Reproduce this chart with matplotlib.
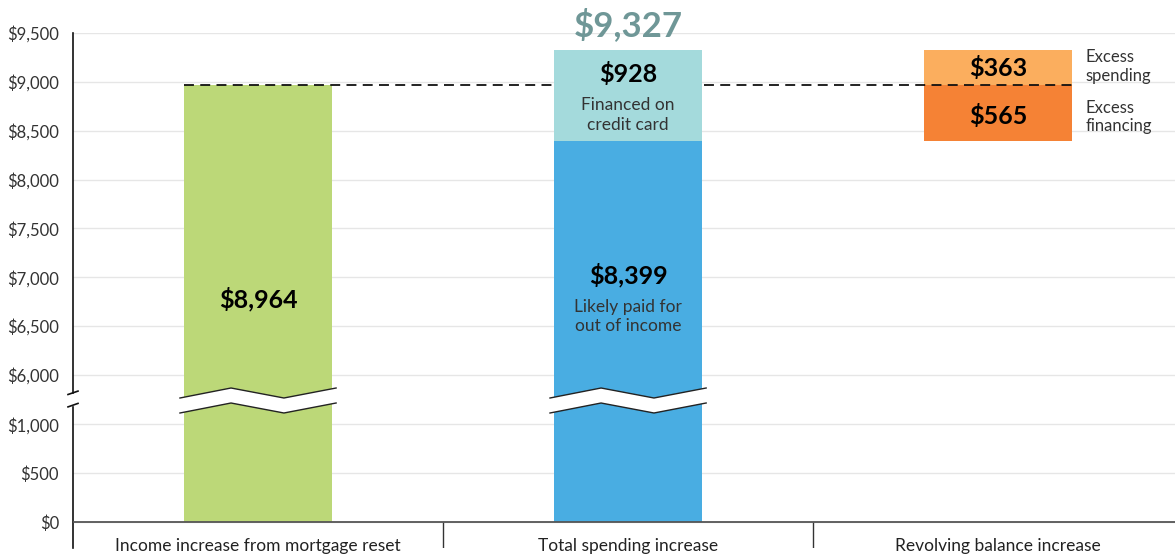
import matplotlib.pyplot as plt
import numpy as np

plt.rcParams['font.family'] = ['Lato', 'DejaVu Sans']

# data
categories = ['Income increase from mortgage reset', 'Total spending increase',
              'Revolving balance increase']
income_increase = 8964
paid_from_income = 8399
financed_on_card = 928
excess_financing = 565
excess_spending = 363
total_spending = paid_from_income + financed_on_card

top_ticks = np.arange(6000, 9501, 500)
bottom_ticks = [0, 500, 1000]

GREEN = '#bcd878'
BLUE = '#49ade2'
TEAL = '#a4dadc'
ORANGE_LIGHT = '#fbae5e'
ORANGE_DARK = '#f58235'
TOTAL_COLOR = '#6f9797'
TEXT = '#222222'
GRID = '#e6e6e6'

W, H = 1175, 554
fig = plt.figure(figsize=(W / 100, H / 100), dpi=100)
ax_top = fig.add_axes([73 / W, 1 - 393 / H, 1 - 73 / W, 360 / H])
ax_bot = fig.add_axes([73 / W, 1 - 548 / H, 1 - 73 / W, 141 / H])
ax_top.set_zorder(3)

TOP_LIM = (5816, 9500)
BOT_LIM = (-265, 1177)
XLIM = (-0.5, 2.478)
BAR_W = 0.4

for ax in (ax_top, ax_bot):
    ax.set_xlim(*XLIM)
    for s in ('top', 'right', 'bottom'):
        ax.spines[s].set_visible(False)
    ax.spines['left'].set_color('#111111')
    ax.spines['left'].set_linewidth(1.2)
    ax.set_xticks([])
    ax.tick_params(axis='y', length=0, pad=10, labelsize=12, labelcolor='#333333')
    ax.set_axisbelow(True)
    ax.grid(axis='y', color=GRID, lw=1)

ax_top.set_ylim(*TOP_LIM)
ax_bot.set_ylim(*BOT_LIM)
ax_top.set_yticks(top_ticks)
ax_top.set_yticklabels(['${:,}'.format(v) for v in top_ticks])
ax_bot.set_yticks(bottom_ticks)
ax_bot.set_yticklabels(['${:,}'.format(v) for v in bottom_ticks])

# value at the bottom of the gap between the two axes (in top-axes units)
units_per_px = (TOP_LIM[1] - TOP_LIM[0]) / 360
base = TOP_LIM[0] - 14 * units_per_px

# bars, top panel
ax_top.bar(0, income_increase - base, bottom=base, width=BAR_W, color=GREEN, clip_on=False, zorder=2)
ax_top.bar(1, paid_from_income - base, bottom=base, width=BAR_W, color=BLUE, clip_on=False, zorder=4)
ax_top.bar(1, financed_on_card, bottom=paid_from_income, width=BAR_W, color=TEAL, zorder=4)
ax_top.bar(2, excess_financing, bottom=paid_from_income, width=BAR_W, color=ORANGE_DARK, zorder=2)
ax_top.bar(2, excess_spending, bottom=paid_from_income + excess_financing, width=BAR_W,
           color=ORANGE_LIGHT, zorder=2)

# bars, bottom panel
ax_bot.bar(0, income_increase, width=BAR_W, color=GREEN, zorder=2)
ax_bot.bar(1, paid_from_income, width=BAR_W, color=BLUE, zorder=2)

# dashed reference at income level
ax_top.plot([0 - BAR_W / 2, 2 + BAR_W / 2], [income_increase, income_increase],
            color='#111111', lw=1.3, ls=(0, (5.5, 3.5)), zorder=3)

# zero line and category separators
ax_bot.axhline(0, color='#555555', lw=1.3, zorder=3)
ax_bot.vlines([0.5, 1.5], BOT_LIM[0], 0, color='#333333', lw=1)
for i, cat in enumerate(categories):
    ax_bot.text(i, -240, cat, ha='center', va='center', fontsize=12.5, color=TEXT, clip_on=False)

# zigzag break bands across bars
dx = np.array([-0.211, -0.073, 0.070, 0.211])
upper_px = np.array([398, 388, 398, 388])
lower_px = np.array([413, 403, 413, 403])
to_val = lambda px: TOP_LIM[0] - (px - 393) * units_per_px
for xc in (0, 1):
    xs = xc + dx
    yu, yl = to_val(upper_px), to_val(lower_px)
    ax_top.fill(np.r_[xs, xs[::-1]], np.r_[yu, yl[::-1]], color='white', lw=0,
                clip_on=False, zorder=6)
    ax_top.plot(xs, yu, color='#222222', lw=1, clip_on=False, zorder=7)
    ax_top.plot(xs, yl, color='#222222', lw=1, clip_on=False, zorder=7)

# axis break marks on left spine
ex = 5 / (W - 73)
ax_top.plot([-ex, ex], [-1.5 / 360, 1.9 / 360], transform=ax_top.transAxes,
            color='#111111', lw=1.2, clip_on=False)
ax_bot.plot([-ex, ex], [1 + 0.1 / 141, 1 + 3.6 / 141], transform=ax_bot.transAxes,
            color='#111111', lw=1.2, clip_on=False)

# labels
bold = dict(ha='center', va='center', fontsize=18, fontweight='bold', color='black', zorder=8)
note = dict(ha='center', va='center', fontsize=12.5, color='#333333', zorder=8, linespacing=1.28)
ax_top.text(0, 6778, '${:,}'.format(income_increase), **bold)
ax_top.text(1, 7023, '${:,}'.format(paid_from_income), **bold)
ax_top.text(1, 6598, 'Likely paid for\nout of income', **note)
ax_top.text(1, 9080, '${:,}'.format(financed_on_card), **bold)
ax_top.text(1, 8660, 'Financed on\ncredit card', **note)
ax_top.text(2, 9142, '${:,}'.format(excess_spending), **bold)
ax_top.text(2, 8650, '${:,}'.format(excess_financing), **bold)
ax_top.text(1, 9582, '${:,}'.format(total_spending), ha='center', va='center', fontsize=25,
            fontweight='bold', color=TOTAL_COLOR, clip_on=False)
side = dict(ha='left', va='center', fontsize=12, color='#333333', linespacing=1.2)
ax_top.text(2.235, 9157, 'Excess\nspending', **side)
ax_top.text(2.235, 8640, 'Excess\nfinancing', **side)

fig.savefig('out.png', dpi=100)
